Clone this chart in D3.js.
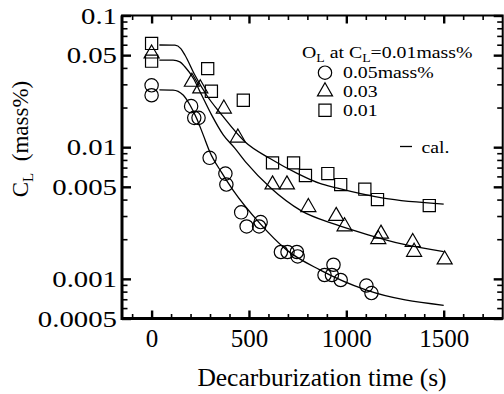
<!DOCTYPE html>
<html>
<head>
<meta charset="utf-8">
<script src="https://cdn.jsdelivr.net/npm/d3@7"></script>
<style>
body { margin: 0; background: #fff; }
</style>
</head>
<body>
<div id="chart"></div>
<script>
// measured points, [time (s), C_L (mass%)]
const obsO005 = [[0,0.0295],[0,0.0248],[203,0.0205],[219,0.0167],[241,0.0167],[298,0.0083],
    [379,0.0063],[384,0.0052],[460,0.0032],[488,0.0025],[552,0.0025],[560,0.0027],[664,0.0016],
    [698,0.0016],[746,0.0016],[750,0.00148],[888,0.00107],[926,0.00107],[934,0.00128],
    [971,0.00098],[1103,0.00089],[1129,0.00078]];
const obsO003 = [[0,0.0513],[207,0.0313],[250,0.0279],[371,0.0196],[443,0.0118],[621,0.0052],
    [695,0.0052],[805,0.0035],[948,0.0030],[991,0.0025],[1164,0.0020],[1178,0.0022],
    [1341,0.0019],[1348,0.0016],[1505,0.0014]];
const obsO001 = [[0,0.0614],[0,0.045],[288,0.0395],[307,0.0266],[471,0.0227],[621,0.0076],
    [729,0.0076],[790,0.0061],[905,0.0063],[971,0.0052],[1095,0.0048],[1160,0.0040],[1426,0.0036]];

// calculated curves
const calO005 = [[40,0.0272],[110,0.0271],[162,0.0249],[197,0.0209],[231,0.0166],[265,0.0124],
    [299,0.0092],[360,0.0064],[419,0.0047],[556,0.00264],[693,0.00166],[864,0.00117],
    [1104,0.00082],[1500,0.00063]];
const calO003 = [[40,0.0459],[110,0.0458],[145,0.0445],[171,0.0408],[214,0.0334],[257,0.0249],
    [308,0.0176],[368,0.0124],[428,0.0098],[487,0.0076],[612,0.0049],[767,0.0033],[940,0.0026],
    [1112,0.00216],[1285,0.00184],[1500,0.00161]];
const calO001 = [[40,0.0597],[120,0.0595],[150,0.056],[171,0.0501],[222,0.0353],[282,0.0249],
    [360,0.0176],[479,0.011],[608,0.0082],[750,0.0063],[864,0.0053],[950,0.0049],
    [1190,0.0041],[1500,0.0037]];

const xMajorTicks = [0, 500, 1000, 1500];
const xMinorTicks = [-100,100,200,300,400,600,700,800,900,1100,1200,1300,1400,1600,1700];
const yMajorTicks = [0.1, 0.05, 0.01, 0.005, 0.001, 0.0005];
const yTickLabels = ['0.1', '0.05', '0.01', '0.005', '0.001', '0.0005'];
const yMinorTicks = [0.09,0.08,0.07,0.06,0.04,0.03,0.02,
    0.009,0.008,0.007,0.006,0.004,0.003,0.002,
    0.0009,0.0008,0.0007,0.0006];
const legendLabels = ['0.05mass%', '0.03', '0.01'];

const FONT = '"Liberation Serif", "DejaVu Serif", serif';

class DecarbView {

    constructor(container){
        this.container = container;
        this.width = 504;
        this.height = 394;
        this.margin = {left: 122, top: 15.5, right: 1.3, bottom: 75.5};
    }

    init(){
        d3.select(this.container).html('');
        this.svg = d3.select(this.container).append('svg')
            .attr('width', this.width)
            .attr('height', this.height)
            .attr('font-family', FONT);

        this.x = d3.scaleLinear().domain([-152, 1803])
            .range([this.margin.left, this.width - this.margin.right]);
        this.y = d3.scaleLog().domain([0.0005, 0.1])
            .range([this.height - this.margin.bottom, this.margin.top]);
    }

    axis(gen, pos, values, size, width){
        let g = this.svg.append('g')
            .attr('transform', pos)
            .call(gen.tickValues(values).tickSize(size).tickFormat(''));
        g.select('.domain').remove();
        g.selectAll('line').attr('stroke-width', width);
        return g;
    }

    draw(){
        let x = this.x, y = this.y;
        let left = this.margin.left, right = this.width - this.margin.right;
        let top = this.margin.top, bottom = this.height - this.margin.bottom;

        // minor + major ticks on all four sides, pointing inward
        this.axis(d3.axisBottom(x), `translate(0,${bottom})`, xMinorTicks, -4.5, 1.6);
        this.axis(d3.axisTop(x), `translate(0,${top})`, xMinorTicks, -4.5, 1.6);
        this.axis(d3.axisTop(x), `translate(0,${top})`, xMajorTicks, -8, 2.4);
        this.axis(d3.axisLeft(y), `translate(${left},0)`, yMinorTicks, -5.5, 1.6);
        this.axis(d3.axisRight(y), `translate(${right},0)`, yMinorTicks, -5.5, 1.6);
        this.axis(d3.axisRight(y), `translate(${right},0)`, yMajorTicks, -9, 2.4);

        let xg = this.svg.append('g')
            .attr('transform', `translate(0,${bottom})`)
            .call(d3.axisBottom(x).tickValues(xMajorTicks).tickSize(-8).tickPadding(11).tickFormat(d3.format('d')))
            .attr('font-size', 25).attr('font-family', FONT);
        xg.select('.domain').remove();
        xg.selectAll('line').attr('stroke-width', 2.4);

        let yg = this.svg.append('g')
            .attr('transform', `translate(${left},0)`)
            .call(d3.axisLeft(y).tickValues(yMajorTicks).tickSize(-9).tickPadding(5)
                .tickFormat((d, i) => yTickLabels[i]))
            .attr('font-size', 24).attr('font-family', FONT);
        yg.select('.domain').remove();
        yg.selectAll('line').attr('stroke-width', 2.4);
        yg.selectAll('text').attr('transform', 'scale(1.2,1)').attr('x', -5 / 1.2);

        // frame: top/right thinner than the left/bottom axes
        this.svg.append('rect')
            .attr('x', left).attr('y', top)
            .attr('width', right - left).attr('height', bottom - top)
            .attr('fill', 'none').attr('stroke', '#000').attr('stroke-width', 2);
        this.svg.append('path')
            .attr('d', `M${left},${top}V${bottom}H${right}`)
            .attr('fill', 'none').attr('stroke', '#000').attr('stroke-width', 3);

        // calculated lines
        let lineFunc = d3.line()
            .curve(d3.curveMonotoneX)
            .x((d)=>{ return x(d[0]); })
            .y((d)=>{ return y(d[1]); });

        [calO005, calO003, calO001].forEach((c)=>{
            this.svg.append('path')
                .attr('d', lineFunc(c))
                .attr('fill', 'none')
                .attr('stroke', '#000')
                .attr('stroke-width', 1.3);
        });

        // observed points
        this.symbols = [
            d3.symbol().type(d3.symbolCircle).size(140),
            d3.symbol().type(d3.symbolTriangle).size(98),
            d3.symbol().type(d3.symbolSquare).size(148)
        ];
        [obsO005, obsO003, obsO001].forEach((s, k)=>{
            this.svg.append('g').selectAll('path')
                .data(s)
                .enter()
                .append('path')
                .attr('d', this.symbols[k]())
                .attr('transform', (d)=>{ return `translate(${x(d[0])},${y(d[1])})`; })
                .attr('fill', 'none')
                .attr('stroke', '#000')
                .attr('stroke-width', 1.2);
        });

        this.drawLegend();

        // axis titles
        this.svg.append('text')
            .attr('x', 322).attr('y', 386)
            .attr('text-anchor', 'middle')
            .attr('font-size', 25.5)
            .text('Decarburization time (s)');

        let yt = this.svg.append('text')
            .attr('transform', 'translate(28,139) rotate(-90)')
            .attr('text-anchor', 'middle')
            .attr('font-size', 23);
        yt.append('tspan').text('C');
        yt.append('tspan').attr('font-size', 15).attr('dy', 5).text('L');
        yt.append('tspan').attr('dy', -5).text('\u00a0 (mass%)');
    }

    drawLegend(){
        let lg = this.svg.append('g').attr('font-size', 16.5);

        let title = lg.append('text').attr('transform', 'translate(302,58) scale(1.2,1)');
        title.append('tspan').text('O');
        title.append('tspan').attr('font-size', 11.5).attr('dy', 3.5).text('L');
        title.append('tspan').attr('dy', -3.5).text(' at C');
        title.append('tspan').attr('font-size', 11.5).attr('dy', 3.5).text('L');
        title.append('tspan').attr('dy', -3.5).text('=0.01mass%');

        legendLabels.forEach((lab, i)=>{
            let cy = 72.7 + i * 18.8;
            lg.append('path')
                .attr('d', this.symbols[i]())
                .attr('transform', `translate(325,${cy})`)
                .attr('fill', 'none')
                .attr('stroke', '#000')
                .attr('stroke-width', 1.2);
            lg.append('text')
                .attr('transform', `translate(343,${cy + 5.5}) scale(1.2,1)`)
                .text(lab);
        });

        lg.append('line')
            .attr('x1', 400).attr('x2', 412)
            .attr('y1', 146.5).attr('y2', 146.5)
            .attr('stroke', '#000').attr('stroke-width', 1.3);
        lg.append('text')
            .attr('transform', 'translate(421.5,153) scale(1.2,1)')
            .text('cal.');
    }
}

let view = new DecarbView('#chart');
view.init();
view.draw();
</script>
</body>
</html>
